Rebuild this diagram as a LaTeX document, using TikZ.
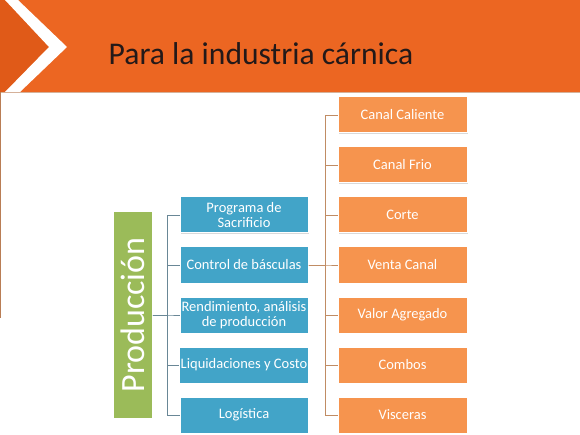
\documentclass[tikz,border=0pt]{standalone}
\usepackage{fontspec}
\setmainfont{Carlito}
\usepackage{graphicx}
\usepackage{tikz}
\usetikzlibrary{shapes,positioning,shadows,trees}
\definecolor{bandorange}{RGB}{236,102,34}
\definecolor{darkorange}{RGB}{224,90,24}
\definecolor{leafgreen}{RGB}{155,187,89}
\definecolor{boxblue}{RGB}{66,164,200}
\definecolor{boxorange}{RGB}{246,148,78}
\definecolor{linkblue}{RGB}{105,135,150}
\definecolor{linkbrown}{RGB}{192,140,100}
\definecolor{edgebrown}{RGB}{185,125,85}
\definecolor{titleink}{RGB}{35,25,25}
\tikzset{
    basic/.style  = {rectangle, draw=white, line width=1pt, text=white, align=center,
                     drop shadow={shadow xshift=0.8pt, shadow yshift=-0.8pt, opacity=0.3}},
    root/.style   = {basic, fill=leafgreen, minimum width=39pt, minimum height=206pt,
                     inner sep=0pt, font=\fontsize{34}{34}\selectfont},
    blue entry/.style   = {basic, fill=boxblue, minimum width=128pt, minimum height=36pt,
                     inner sep=1pt, font=\fontsize{14.5}{15.5}\selectfont},
    orange entry/.style = {basic, fill=boxorange, minimum width=129pt, minimum height=36pt,
                     inner sep=1pt, font=\fontsize{14.5}{15.5}\selectfont},
    heading/.style = {text=titleink, font=\fontsize{31.6}{34}\selectfont}
}

\begin{document}
\begin{tikzpicture}[x=1pt, y=-1pt, grow'=right,
	level 1/.style={level distance=111.5pt, sibling distance=50pt,
		edge from parent path={(\tikzparentnode.east) -- ++(15,0) |- (\tikzchildnode.west)},
		edge from parent/.style={draw=linkblue, line width=0.7pt}},
	level 2/.style={level distance=158.5pt, sibling distance=50pt,
		edge from parent path={(\tikzparentnode.east) -- ++(17,0) |- (\tikzchildnode.west)},
		edge from parent/.style={draw=linkbrown, line width=0.7pt}}]
	\useasboundingbox (0,0) rectangle (580,435);
	% header band with chevron
	\fill[bandorange] (0,0) rectangle (580,92);
	\fill[darkorange] (0,0) -- (5,0) -- (49,47) -- (5,92) -- (0,92) -- cycle;
	\fill[white] (5,0) -- (18,0) -- (67,47) -- (20,92) -- (5,92) -- (49,47) -- cycle;
	\draw[edgebrown!60, line width=0.6pt] (0,92.3) -- (580,92.3);
	\draw[edgebrown, line width=1.2pt] (0.6,92) -- (0.6,318);
	\node[heading, anchor=base] (title) at (261,65) {Para la industria cárnica};
	% tree
	\node[root] (prod) at (132.5,315) {\rotatebox{90}{Producción}}
		child{node[blue entry] (sacrificio) {Programa de\\Sacrificio}}
		child{node[blue entry] (basculas) {Control de básculas}
			child{node[orange entry] (caliente) {Canal Caliente}}
			child{node[orange entry] (frio) {Canal Frio}}
			child{node[orange entry] (corte) {Corte}}
			child{node[orange entry] (venta) {Venta Canal}}
			child{node[orange entry] (agregado) {Valor Agregado}}
			child{node[orange entry] (combos) {Combos}}
			child{node[orange entry] (visceras) {Visceras}}}
		child{node[blue entry] (rendimiento) {Rendimiento, análisis\\de producción}}
		child{node[blue entry] (liquidaciones) {Liquidaciones y Costo}}
		child{node[blue entry] (logistica) {Logística}};
\end{tikzpicture}
\end{document}
